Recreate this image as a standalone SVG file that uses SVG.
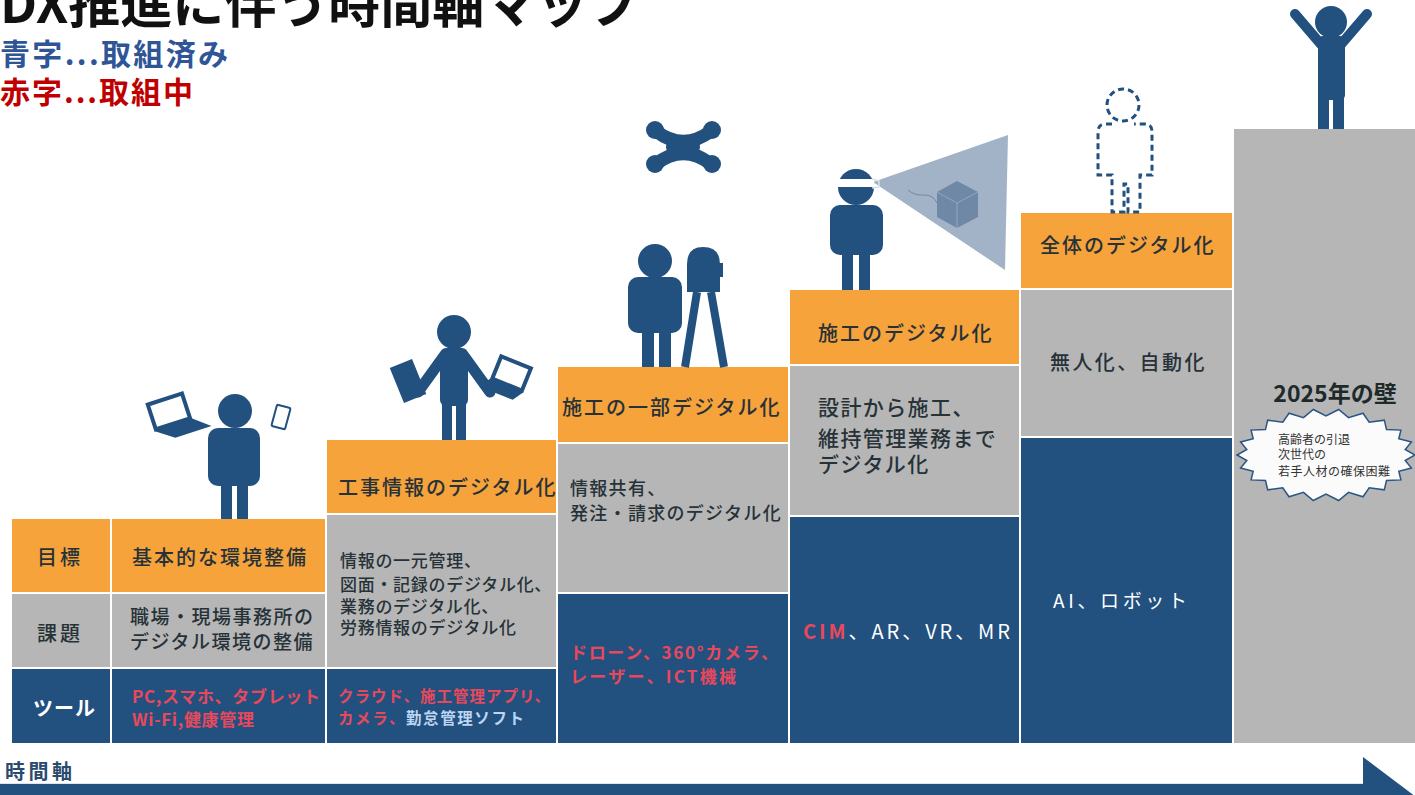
<svg xmlns="http://www.w3.org/2000/svg" width="1415" height="795" viewBox="0 0 1415 795">
  <style>
    .t { font-family: "Noto Sans CJK JP", "Noto Sans", sans-serif; }
    .dark { fill: #263238; font-weight: 500; }
    .red { fill: #e8485c; font-weight: bold; }
    .wht { fill: #ffffff; }
    .lblue { fill: #bcd5f2; font-weight: bold; }
    .org { fill: #f6a33c; }
    .gry { fill: #b6b6b6; }
    .blu { fill: #22507f; }
    .fig { fill: #22507f; }
    .h1 { font-size: 20px; letter-spacing: 2px; }
  </style>

  <rect width="1415" height="795" fill="#ffffff"/>

  <!-- heading and legend -->
  <g id="heading" class="t">
    <text x="0" y="23" font-size="52" font-weight="bold" fill="#111111">DX推進に伴う時間軸マップ</text>
    <text x="0" y="65" font-size="30" font-weight="bold" fill="#2f5597" textLength="228">青字...取組済み</text>
    <text x="0" y="103" font-size="30" font-weight="bold" fill="#c00000" textLength="193">赤字...取組中</text>
  </g>

  <!-- row labels -->
  <g id="labels" class="t">
    <rect class="org" x="12" y="519" width="98" height="73"/>
    <rect class="gry" x="12" y="594" width="98" height="73"/>
    <rect class="blu" x="12" y="669" width="98" height="74"/>
    <text class="dark" x="37" y="565" font-size="20" textLength="43">目標</text>
    <text class="dark" x="37" y="641" font-size="20" textLength="43">課題</text>
    <text class="wht" x="33" y="716" font-size="20" font-weight="bold" textLength="62">ツール</text>
  </g>

  <!-- step 1 -->
  <g id="step1" class="t">
    <rect class="org" x="112" y="519" width="213" height="73"/>
    <rect class="gry" x="112" y="594" width="213" height="73"/>
    <rect class="blu" x="112" y="669" width="213" height="74"/>
    <text class="dark h1" x="132" y="565">基本的な環境整備</text>
    <text class="dark" x="130" y="624" font-size="19" letter-spacing="1.5">職場・現場事務所の</text>
    <text class="dark" x="130" y="649" font-size="19" letter-spacing="1.5">デジタル環境の整備</text>
    <text class="red" x="132" y="703" font-size="17" textLength="188">PC,スマホ、タブレット</text>
    <text class="red" x="132" y="726" font-size="17" textLength="122">Wi-Fi,健康管理</text>
    <!-- worker with laptop and phone -->
    <g class="fig">
      <circle cx="235" cy="411" r="17"/>
      <rect x="208" y="428" width="52" height="58" rx="10"/>
      <rect x="221" y="478" width="11" height="41"/>
      <rect x="237" y="478" width="11" height="41"/>
      <g transform="translate(178,420) rotate(-18)">
        <rect x="-24" y="-24" width="36" height="26" fill="none" stroke="#22507f" stroke-width="4"/>
        <polygon points="-26,3 14,3 30,16 -8,16"/>
      </g>
      <rect x="-7" y="-11" width="14" height="22" rx="1.5" transform="translate(281,417) rotate(15)" fill="none" stroke="#22507f" stroke-width="2"/>
    </g>
  </g>

  <!-- step 2 -->
  <g id="step2" class="t">
    <rect class="org" x="327" y="440" width="229" height="73"/>
    <rect class="gry" x="327" y="515" width="229" height="152"/>
    <rect class="blu" x="327" y="669" width="229" height="74"/>
    <text class="dark h1" x="338" y="495">工事情報のデジタル化</text>
    <text class="dark" x="340" y="567" font-size="17" letter-spacing="0.7">情報の一元管理、</text>
    <text class="dark" x="340" y="591" font-size="17" letter-spacing="0.7">図面・記録のデジタル化、</text>
    <text class="dark" x="340" y="613" font-size="17" letter-spacing="0.7">業務のデジタル化、</text>
    <text class="dark" x="340" y="634" font-size="17" letter-spacing="0.7">労務情報のデジタル化</text>
    <text class="red" x="338" y="702" font-size="15.5" textLength="212">クラウド、施工管理アプリ、</text>
    <text x="338" y="724" font-size="15.5" textLength="186"><tspan class="red">カメラ、</tspan><tspan class="lblue">勤怠管理ソフト</tspan></text>
    <!-- worker holding tablet and laptop -->
    <g class="fig">
      <circle cx="454" cy="332" r="17"/>
      <rect x="440" y="348" width="28" height="58" rx="6"/>
      <path d="M444,356 L418,392 M464,356 L490,392" stroke="#22507f" stroke-width="11" stroke-linecap="round" fill="none"/>
      <rect x="442" y="398" width="10" height="42"/>
      <rect x="456" y="398" width="10" height="42"/>
      <rect x="-12" y="-19" width="24" height="38" transform="translate(408,381) rotate(-22)"/>
      <g transform="translate(508,385) rotate(22)">
        <rect x="-17" y="-24" width="32" height="24" fill="none" stroke="#22507f" stroke-width="4"/>
        <polygon points="-19,1 17,1 10,12 -26,12"/>
      </g>
    </g>
  </g>

  <!-- step 3 -->
  <g id="step3" class="t">
    <rect class="org" x="558" y="367" width="230" height="75"/>
    <rect class="gry" x="558" y="444" width="230" height="148"/>
    <rect class="blu" x="558" y="594" width="230" height="149"/>
    <text class="dark h1" x="562" y="415">施工の一部デジタル化</text>
    <text class="dark" x="570" y="495" font-size="18" letter-spacing="1.3">情報共有、</text>
    <text class="dark" x="570" y="520" font-size="18" letter-spacing="1.3">発注・請求のデジタル化</text>
    <text class="red" x="570" y="659" font-size="17" textLength="208">ドローン、360°カメラ、</text>
    <text class="red" x="570" y="683" font-size="17" textLength="166">レーザー、ICT機械</text>
    <!-- surveyor and total station -->
    <g class="fig">
      <circle cx="655" cy="261" r="17"/>
      <rect x="628" y="277" width="54" height="56" rx="10"/>
      <rect x="642" y="325" width="12" height="42"/>
      <rect x="659" y="325" width="12" height="42"/>
      <path d="M687,292 L687,264 Q687,247 703,247 Q720,247 720,264 L720,292 Z"/>
      <rect x="718" y="263" width="5" height="14"/>
      <path d="M697,292 L685,367 M711,292 L724,367" stroke="#22507f" stroke-width="8" fill="none"/>
    </g>
    <!-- drone -->
    <g class="fig" id="drone">
      <path d="M656,131 Q683,152 711,131 M656,164 Q683,143 711,164" stroke="#22507f" stroke-width="13" stroke-linecap="round" fill="none"/>
      <ellipse cx="683" cy="147" rx="17" ry="10"/>
      <circle cx="655" cy="130" r="9"/>
      <circle cx="712" cy="130" r="9"/>
      <circle cx="655" cy="164" r="9"/>
      <circle cx="712" cy="164" r="9"/>
    </g>
  </g>

  <!-- step 4 -->
  <g id="step4" class="t">
    <rect class="org" x="790" y="290" width="229" height="74"/>
    <rect class="gry" x="790" y="366" width="229" height="149"/>
    <rect class="blu" x="790" y="517" width="229" height="226"/>
    <text class="dark h1" x="818" y="341">施工のデジタル化</text>
    <text class="dark" x="818" y="415" font-size="21" letter-spacing="1.4">設計から施工、</text>
    <text class="dark" x="818" y="446" font-size="21" letter-spacing="1.4">維持管理業務まで</text>
    <text class="dark" x="818" y="472" font-size="21" letter-spacing="1.4">デジタル化</text>
    <text x="803" y="639" font-size="20" textLength="207"><tspan class="red" font-weight="normal">CIM</tspan><tspan class="wht">、AR、VR、MR</tspan></text>
    <!-- AR view cone and model -->
    <polygon points="873,182 1008,135 1005,270" fill="#a3b3c7"/>
    <polygon points="957,181 978,192 978,217 957,228 937,217 937,192" fill="#6f88a5"/>
    <path d="M937,192 L957,203 L978,192 M957,203 L957,228" stroke="#93a7bf" stroke-width="1" fill="none"/>
    <path d="M908,190 Q915,196 925,195 Q933,195 937,203" stroke="#6f88a5" stroke-width="1" fill="none"/>
    <!-- worker wearing AR glasses -->
    <g class="fig">
      <circle cx="856" cy="187" r="18"/>
      <rect x="830" y="205" width="53" height="50" rx="10"/>
      <rect x="842" y="248" width="11" height="42"/>
      <rect x="859" y="248" width="11" height="42"/>
      <rect x="838" y="179" width="36" height="8" fill="#ffffff"/>
      <path d="M872,179 L879,181 L879,187 L872,188" fill="none" stroke="#d8e2ee" stroke-width="1.5"/>
    </g>
  </g>

  <!-- step 5 -->
  <g id="step5" class="t">
    <rect class="org" x="1021" y="213" width="211" height="75"/>
    <rect class="gry" x="1021" y="290" width="211" height="146"/>
    <rect class="blu" x="1021" y="438" width="211" height="305"/>
    <text class="dark h1" x="1040" y="253">全体のデジタル化</text>
    <text class="dark" x="1050" y="370" font-size="20" letter-spacing="2.4">無人化、自動化</text>
    <text class="wht" x="1053" y="608" font-size="19" textLength="134">AI、ロボット</text>
    <!-- future worker, dashed outline -->
    <g fill="none" stroke="#22507f" stroke-width="3" stroke-dasharray="6 4">
      <circle cx="1123" cy="105" r="16"/>
      <path d="M1112,124 L1105,124 Q1098,124 1098,132 L1098,175 L1112,175 L1112,212 L1124,212 L1124,184 L1128,184 L1128,212 L1140,212 L1140,175 L1152,175 L1152,132 Q1152,124 1145,124 L1134,124"/>
    </g>
  </g>

  <!-- step 6 -->
  <g id="step6" class="t">
    <rect class="gry" x="1234" y="129" width="181" height="614"/>
    <text x="1335" y="402" font-size="23" font-weight="bold" fill="#1e2a2a" text-anchor="middle">2025年の壁</text>
    <!-- spiky callout -->
    <polygon fill="#fbfbfb" stroke="#2b5584" stroke-width="1.5" points="1415,455 1405.2,460.5 1411.4,468 1398.8,471.2 1400.9,479.9 1386.5,480.5 1384.3,489.8 1369.2,487.8 1363,496.8 1348.5,492.4 1338.7,500.5 1326,494 1313.3,500.5 1303.5,492.4 1289,496.8 1282.8,487.8 1267.7,489.8 1265.5,480.5 1251.1,479.9 1253.2,471.2 1240.6,468 1246.8,460.5 1237,455 1246.8,449.5 1240.6,442 1253.2,438.8 1251.1,430.1 1265.5,429.5 1267.7,420.2 1282.8,422.2 1289,413.2 1303.5,417.6 1313.3,409.5 1326,416 1338.7,409.5 1348.5,417.6 1363,413.2 1369.2,422.2 1384.3,420.2 1386.5,429.5 1400.9,430.1 1398.8,438.8 1411.4,442 1405.2,449.5"/>
    <text x="1278" y="444" font-size="12" fill="#333333">高齢者の引退</text>
    <text x="1278" y="459" font-size="12" fill="#333333">次世代の</text>
    <text x="1278" y="476" font-size="12" fill="#333333" textLength="112">若手人材の確保困難</text>
    <!-- worker with raised arms -->
    <g class="fig">
      <path d="M1295,14 L1331,56 L1367,14" stroke="#22507f" stroke-width="10" stroke-linecap="round" stroke-linejoin="round" fill="none"/>
      <circle cx="1331" cy="22" r="16"/>
      <rect x="1318" y="36" width="27" height="64" rx="5"/>
      <rect x="1318" y="94" width="11" height="35"/>
      <rect x="1333" y="94" width="11" height="35"/>
    </g>
  </g>

  <!-- time axis -->
  <g id="connectors">
    <text class="t" x="5" y="779" font-size="20" font-weight="bold" fill="#2b4a6e" textLength="67">時間軸</text>
    <polygon points="0,783 1363,783 1363,757 1440,815 0,815" fill="#22507f"/>
    <line x1="0" y1="783.5" x2="1363" y2="783.5" stroke="#dbe6f3" stroke-width="1"/>
  </g>
</svg>
